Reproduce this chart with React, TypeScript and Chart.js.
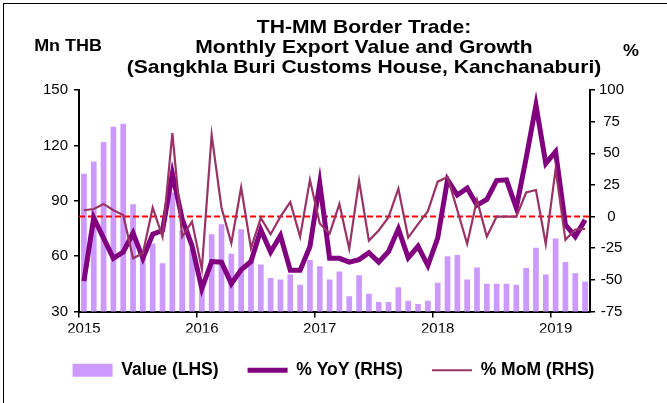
import React, { useEffect, useRef } from "react";
import { Chart, registerables } from "chart.js";

Chart.register(...registerables);

const FONT = "'Liberation Sans', Arial, sans-serif";

const titleLines = [
  "TH-MM Border Trade:",
  "Monthly Export Value and Growth",
  "(Sangkhla Buri Customs House, Kanchanaburi)",
];
const leftUnit = "Mn THB";
const rightUnit = "%";

const years = ["2015", "2016", "2017", "2018", "2019"];
const monthCodes = ["01", "02", "03", "04", "05", "06", "07", "08", "09", "10", "11", "12"];
const monthCount = 52; // Jan 2015 .. Apr 2019
const categories: string[] = years
  .flatMap((y) => monthCodes.map((m) => `${y}-${m}`))
  .slice(0, monthCount);

const valueLHS = [
  104.6, 111.3, 121.8, 130.1, 131.7, 88.1, 62, 66.8, 56.2, 94.5, 74, 64,
  44, 71.8, 77.3, 61.3, 74.5, 58, 55.5, 48.1, 47.4, 50, 44.5, 57.9,
  54.5, 47.4, 51.7, 38.3, 49.6, 39.6, 35.1, 35.1, 43.1, 35.8, 34, 35.8,
  45.6, 60, 60.6, 47.4, 53.9, 45.1, 45.1, 45.1, 44.5, 53.5, 64.6, 50.1,
  69.5, 56.8, 50.7, 46.3,
];

const yoyRHS = [
  -51, -1, -17, -33, -28, -13, -33, -14, -11, 34, -2, -23,
  -57, -35.5, -36, -53, -42, -35.5, -10.5, -28, -15, -42.5, -42.5, -23.7,
  26.3, -33, -33, -36, -34, -28.5, -36, -27.6, -9.7, -32.6, -23.5, -38.7,
  -17, 29, 17, 22.4, 9, 13.5, 28.4, 29, 7, 46, 88, 42,
  51.3, -6.5, -15.8, -2.6,
];

const momRHS = [
  5, 6, 10, 5, 1.3, -33, -29, 7, -16, 66, -16, -4,
  -41.5, 64.5, 7, -21, 23, -25, -1, -14, 0, 11.4, -16, 29,
  -5.5, -13.5, 10, -25.5, 28.3, -19, -11, -0.5, 22, -16.6, -6, 4.3,
  27.6, 31.3, 5, -21.6, 13.2, -15.8, 0, 0, 0, 19, 21, -21.7,
  37.5, -18.4, -10.2, -9.7,
];

const seriesNames = ["Value (LHS)", "% YoY (RHS)", "% MoM (RHS)"];
const COLORS = {
  bar: "#CC99FF",
  yoy: "#800080",
  mom: "#993366",
  zero: "#FF0000",
};

const titlePlugin = {
  id: "titleText",
  afterDraw(chart: any) {
    const ctx = chart.ctx;
    const draw = (text: string, x: number, y: number, font: string, sx: number) => {
      ctx.save();
      ctx.font = font;
      ctx.fillStyle = "#000";
      ctx.textAlign = "center";
      ctx.textBaseline = "middle";
      ctx.translate(x, y);
      ctx.scale(sx, 1);
      ctx.fillText(text, 0, 0);
      ctx.restore();
    };
    titleLines.forEach((t, i) =>
      draw(t, 364, 28 + i * 20, `bold 18.5px ${FONT}`, 1.14)
    );
    draw(leftUnit, 68, 47, `bold 16px ${FONT}`, 1.12);
    draw(rightUnit, 631, 52, `bold 16px ${FONT}`, 1.12);
  },
};

const zeroLinePlugin = {
  id: "zeroLine",
  afterDatasetDraw(chart: any, args: any) {
    if (args.index !== 0) return;
    const ctx = chart.ctx;
    const y = chart.scales.y1.getPixelForValue(0);
    const { left, right } = chart.chartArea;
    ctx.save();
    ctx.strokeStyle = COLORS.zero;
    ctx.lineWidth = 2;
    ctx.setLineDash([6, 3]);
    ctx.beginPath();
    ctx.moveTo(left, y);
    ctx.lineTo(right, y);
    ctx.stroke();
    ctx.restore();
  },
};

export default function App() {
  const canvasRef = useRef<HTMLCanvasElement | null>(null);

  useEffect(() => {
    if (!canvasRef.current) return;
    const tickFont = { family: FONT, size: 15 };
    const chart = new Chart(canvasRef.current, {
      type: "bar",
      data: {
        labels: categories,
        datasets: [
          {
            type: "bar",
            label: seriesNames[0],
            data: valueLHS,
            backgroundColor: COLORS.bar,
            borderWidth: 0,
            yAxisID: "y",
            categoryPercentage: 1,
            barPercentage: 0.58,
            order: 3,
          },
          {
            type: "line",
            label: seriesNames[1],
            data: yoyRHS,
            borderColor: COLORS.yoy,
            backgroundColor: COLORS.yoy,
            borderWidth: 5,
            pointRadius: 0,
            tension: 0,
            yAxisID: "y1",
            order: 2,
          },
          {
            type: "line",
            label: seriesNames[2],
            data: momRHS,
            borderColor: COLORS.mom,
            backgroundColor: COLORS.mom,
            borderWidth: 2.2,
            pointRadius: 0,
            tension: 0,
            yAxisID: "y1",
            order: 1,
          },
        ],
      } as any,
      options: {
        responsive: false,
        animation: false,
        layout: { padding: { top: 90, bottom: 14, left: 0, right: 0 } },
        plugins: {
          tooltip: { enabled: false },
          title: { display: false },
          legend: {
            display: true,
            position: "bottom",
            labels: {
              usePointStyle: true,
              pointStyleWidth: 40,
              boxHeight: 13,
              padding: 29,
              color: "#000",
              font: { family: FONT, size: 17.5, weight: "bold" },
              generateLabels: () => [
                {
                  text: seriesNames[0],
                  fillStyle: COLORS.bar,
                  strokeStyle: COLORS.bar,
                  lineWidth: 0,
                  pointStyle: "rect",
                  hidden: false,
                  datasetIndex: 0,
                  fontColor: "#000",
                },
                {
                  text: seriesNames[1],
                  fillStyle: COLORS.yoy,
                  strokeStyle: COLORS.yoy,
                  lineWidth: 5,
                  pointStyle: "line",
                  hidden: false,
                  datasetIndex: 1,
                  fontColor: "#000",
                },
                {
                  text: seriesNames[2],
                  fillStyle: COLORS.mom,
                  strokeStyle: COLORS.mom,
                  lineWidth: 2,
                  pointStyle: "line",
                  hidden: false,
                  datasetIndex: 2,
                  fontColor: "#000",
                },
              ],
            },
          },
        },
        scales: {
          x: {
            type: "category",
            offset: true,
            grid: {
              offset: true,
              drawOnChartArea: false,
              tickLength: 6,
              lineWidth: 1.5,
              color: (c: any) => (c.index % 12 === 0 ? "#000" : "rgba(0,0,0,0)"),
            },
            border: { display: true, color: "#000", width: 2 },
            ticks: {
              autoSkip: false,
              maxRotation: 0,
              minRotation: 0,
              padding: 2,
              color: "#000",
              font: tickFont,
              callback: (_v: any, i: number) =>
                categories[i].endsWith("-01") ? categories[i].slice(0, 4) : "",
            },
            afterFit: (s: any) => {
              s.height = 21;
            },
          },
          y: {
            position: "left",
            min: 30,
            max: 150,
            ticks: { stepSize: 30, color: "#000", font: tickFont, padding: 6 },
            grid: { drawOnChartArea: false, tickLength: 5, color: "#000", lineWidth: 1.5 },
            border: { display: true, color: "#000", width: 2 },
            afterFit: (s: any) => {
              s.width = 79;
            },
          },
          y1: {
            position: "right",
            min: -75,
            max: 100,
            ticks: { stepSize: 25, color: "#000", font: tickFont, padding: 4, crossAlign: "center" },
            grid: { drawOnChartArea: false, tickLength: 5, color: "#000", lineWidth: 1.5 },
            border: { display: true, color: "#000", width: 2 },
            afterFit: (s: any) => {
              s.width = 77;
            },
          },
        },
      } as any,
      plugins: [titlePlugin, zeroLinePlugin],
    });
    return () => chart.destroy();
  }, []);

  return (
    <div style={{ position: "absolute", left: 0, top: 0, width: 667, height: 403, background: "#fff", overflow: "hidden" }}>
      <div
        style={{
          position: "absolute",
          left: 3,
          top: 3,
          width: 700,
          height: 500,
          borderLeft: "1px solid #000",
          borderTop: "1px solid #000",
        }}
      />
      <canvas ref={canvasRef} width={667} height={403} style={{ position: "absolute", left: 0, top: 0, width: 667, height: 403 }} />
    </div>
  );
}
